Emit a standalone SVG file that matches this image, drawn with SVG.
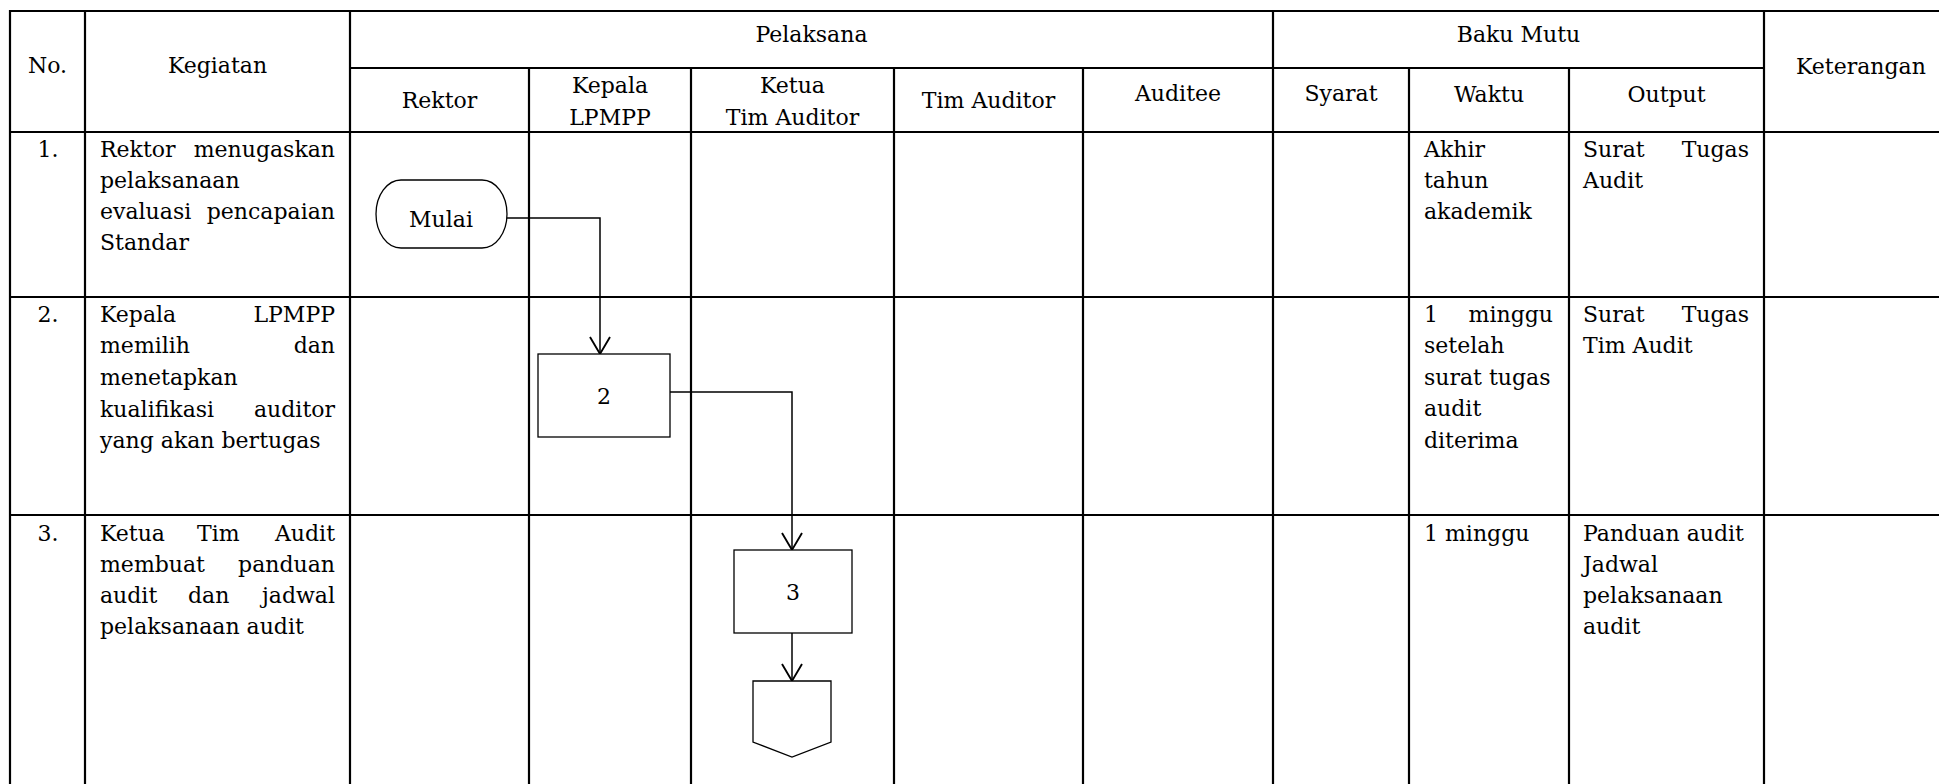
<svg xmlns="http://www.w3.org/2000/svg" width="1939" height="784" viewBox="0 0 1939 784">
<style>
text{font-family:"DejaVu Serif","Liberation Serif",serif;font-size:22px;fill:#000}
.c{text-anchor:middle}
.e{text-anchor:end}
.grid line{stroke:#000;stroke-width:2.2}
.shape{fill:#fff;stroke:#000;stroke-width:1.3}
.conn{fill:none;stroke:#000;stroke-width:1.5}
</style>
<defs>
<marker id="arr" viewBox="-20 -12 22 24" markerWidth="22" markerHeight="24" refX="0" refY="0" orient="auto" markerUnits="userSpaceOnUse" overflow="visible">
<path d="M-17,-10 L0,0 L-17,10" fill="none" stroke="#000" stroke-width="1.9"/>
</marker>
</defs>
<rect width="1939" height="784" fill="#fff"/>
<g class="grid" id="grid">
<line x1="10" y1="11" x2="1939" y2="11"/>
<line x1="350" y1="68" x2="1764" y2="68"/>
<line x1="10" y1="132" x2="1939" y2="132"/>
<line x1="10" y1="297" x2="1939" y2="297"/>
<line x1="10" y1="515" x2="1939" y2="515"/>
<line x1="10" y1="10" x2="10" y2="784"/>
<line x1="85" y1="11" x2="85" y2="784"/>
<line x1="350" y1="11" x2="350" y2="784"/>
<line x1="529" y1="68" x2="529" y2="784"/>
<line x1="691" y1="68" x2="691" y2="784"/>
<line x1="894" y1="68" x2="894" y2="784"/>
<line x1="1083" y1="68" x2="1083" y2="784"/>
<line x1="1273" y1="11" x2="1273" y2="784"/>
<line x1="1409" y1="68" x2="1409" y2="784"/>
<line x1="1569" y1="68" x2="1569" y2="784"/>
<line x1="1764" y1="11" x2="1764" y2="784"/>
</g>
<g id="header">
<text class="c" x="47.5" y="73">No.</text>
<text class="c" x="217.5" y="73">Kegiatan</text>
<text class="c" x="811.5" y="42">Pelaksana</text>
<text class="c" x="1518.5" y="42">Baku Mutu</text>
<text x="1796" y="74">Keterangan</text>
<text class="c" x="439.5" y="108">Rektor</text>
<text class="c" x="610" y="93">Kepala</text>
<text class="c" x="610" y="125">LPMPP</text>
<text class="c" x="792.5" y="93">Ketua</text>
<text class="c" x="792.5" y="125">Tim Auditor</text>
<text class="c" x="988.5" y="108">Tim Auditor</text>
<text class="c" x="1178" y="101">Auditee</text>
<text class="c" x="1341" y="101">Syarat</text>
<text class="c" x="1489" y="102">Waktu</text>
<text class="c" x="1666.5" y="102">Output</text>
</g>
<g id="row1">
<text class="c" x="48" y="157">1.</text>
<text x="100" y="157">Rektor</text><text class="e" x="335" y="157">menugaskan</text>
<text x="100" y="188">pelaksanaan</text>
<text x="100" y="219">evaluasi</text><text class="e" x="335" y="219">pencapaian</text>
<text x="100" y="250">Standar</text>
<text x="1424" y="157">Akhir</text>
<text x="1424" y="188">tahun</text>
<text x="1424" y="219">akademik</text>
<text x="1583" y="157">Surat</text><text class="e" x="1749" y="157">Tugas</text>
<text x="1583" y="188">Audit</text>
</g>
<g id="row2">
<text class="c" x="48" y="322">2.</text>
<text x="100" y="322">Kepala</text><text class="e" x="335" y="322">LPMPP</text>
<text x="100" y="353">memilih</text><text class="e" x="335" y="353">dan</text>
<text x="100" y="385">menetapkan</text>
<text x="100" y="417">kualifikasi</text><text class="e" x="335" y="417">auditor</text>
<text x="100" y="448">yang akan bertugas</text>
<text x="1424" y="322">1</text><text class="e" x="1553" y="322">minggu</text>
<text x="1424" y="353">setelah</text>
<text x="1424" y="385">surat tugas</text>
<text x="1424" y="416">audit</text>
<text x="1424" y="448">diterima</text>
<text x="1583" y="322">Surat</text><text class="e" x="1749" y="322">Tugas</text>
<text x="1583" y="353">Tim Audit</text>
</g>
<g id="row3">
<text class="c" x="48" y="541">3.</text>
<text x="100" y="541">Ketua</text><text x="197" y="541">Tim</text><text class="e" x="335" y="541">Audit</text>
<text x="100" y="572">membuat</text><text class="e" x="335" y="572">panduan</text>
<text x="100" y="603">audit</text><text x="188" y="603">dan</text><text class="e" x="335" y="603">jadwal</text>
<text x="100" y="634">pelaksanaan audit</text>
<text x="1424" y="541">1 minggu</text>
<text x="1583" y="541">Panduan audit</text>
<text x="1583" y="572">Jadwal</text>
<text x="1583" y="603">pelaksanaan</text>
<text x="1583" y="634">audit</text>
</g>
<g id="connectors">
<path class="conn" d="M507,218 H600 V354" marker-end="url(#arr)"/>
<path class="conn" d="M670,392 H792 V550" marker-end="url(#arr)"/>
<path class="conn" d="M792,633 V681" marker-end="url(#arr)"/>
</g>
<g id="node-mulai">
<rect class="shape" x="376" y="180" width="131" height="68" rx="25" ry="34"/>
<text class="c" x="441" y="227">Mulai</text>
</g>
<g id="node-2">
<rect class="shape" x="538" y="354" width="132" height="83"/>
<text class="c" x="604" y="404">2</text>
</g>
<g id="node-3">
<rect class="shape" x="734" y="550" width="118" height="83"/>
<text class="c" x="793" y="600">3</text>
</g>
<g id="node-offpage">
<polygon class="shape" points="753,681 831,681 831,742 792,757 753,742"/>
</g>
</svg>
